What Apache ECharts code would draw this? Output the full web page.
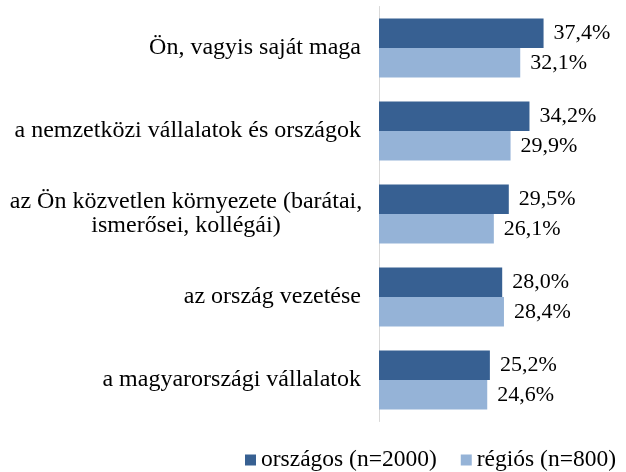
<!DOCTYPE html>
<html>
<head>
<meta charset="utf-8">
<script src="https://cdn.jsdelivr.net/npm/echarts@6/dist/echarts.min.js"></script>
<style>
  html, body { margin: 0; padding: 0; background: #fff; }
  #chart { width: 626px; height: 472px; }
</style>
</head>
<body>
<div id="chart"></div>
<script>
const categories = [
  'Ön, vagyis saját maga',
  'a nemzetközi vállalatok és országok',
  'az Ön közvetlen környezete (barátai,\nismerősei, kollégái)',
  'az ország vezetése',
  'a magyarországi vállalatok'
];
const orszagos = [37.4, 34.2, 29.5, 28.0, 25.2];
const regios = [32.1, 29.9, 26.1, 28.4, 24.6];
const seriesNames = ['országos (n=2000)', 'régiós (n=800)'];

const font = 'Liberation Serif, Times New Roman, serif';
const fmt = p => p.value.toFixed(1).replace('.', ',') + '%';

const chart = echarts.init(document.getElementById('chart'));
chart.setOption({
  animation: false,
  textStyle: { fontFamily: font },
  grid: { left: 379, top: 6.5, width: 220, height: 415 },
  legend: {
    data: seriesNames,
    left: 240,
    top: 443,
    itemWidth: 11,
    itemHeight: 11,
    itemGap: 24,
    icon: 'rect',
    textStyle: { fontFamily: font, fontSize: 23.5, color: '#000' }
  },
  xAxis: {
    type: 'value',
    min: 0,
    max: 50,
    show: false
  },
  yAxis: {
    type: 'category',
    data: categories,
    inverse: true,
    axisLine: { lineStyle: { color: '#d9d9d9', width: 1 } },
    axisTick: { show: false },
    axisLabel: {
      fontFamily: font,
      fontSize: 24,
      color: '#000',
      margin: 18,
      lineHeight: 24,
      formatter: v => v.indexOf('\n') >= 0 ? '{w|' + v + '}' : v,
      rich: {
        w: { fontFamily: font, fontSize: 24, lineHeight: 24, color: '#000', width: 350, align: 'center' }
      }
    }
  },
  series: [
    {
      name: seriesNames[0],
      type: 'bar',
      data: orszagos,
      barWidth: 29.5,
      barGap: '0%',
      itemStyle: { color: '#376092' },
      label: { show: true, position: 'right', distance: 10, formatter: fmt, fontFamily: font, fontSize: 22, color: '#000' }
    },
    {
      name: seriesNames[1],
      type: 'bar',
      data: regios,
      barWidth: 29.5,
      itemStyle: { color: '#95b3d7' },
      label: { show: true, position: 'right', distance: 10, formatter: fmt, fontFamily: font, fontSize: 22, color: '#000' }
    }
  ]
});
</script>
</body>
</html>
